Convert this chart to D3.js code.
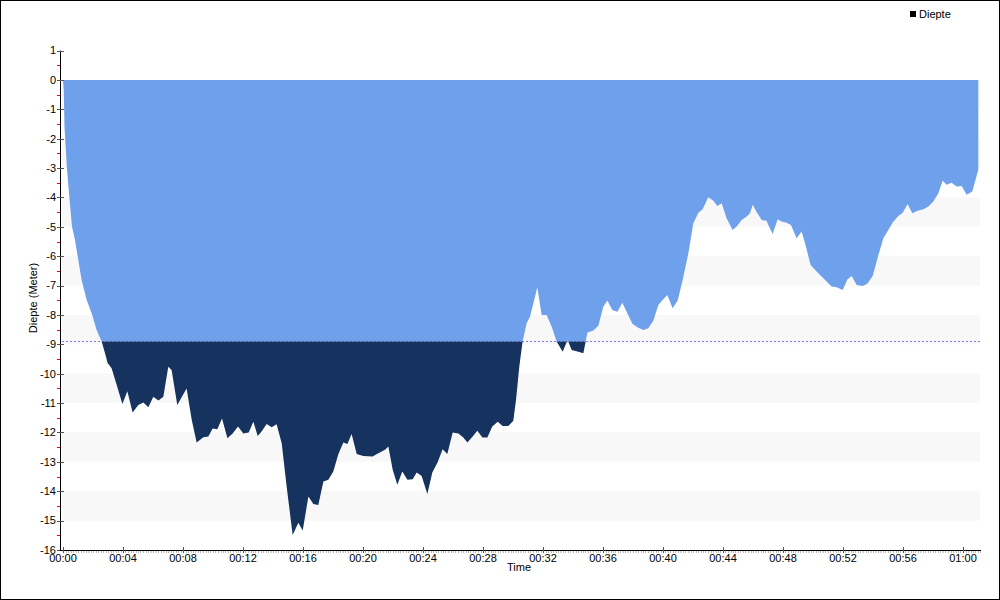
<!DOCTYPE html>
<html><head><meta charset="utf-8">
<script src="https://cdn.jsdelivr.net/npm/d3@7"></script>
<style>body{margin:0;background:#fff}svg{display:block}</style>
</head><body><svg id="c" width="1000" height="600"></svg>
<script>
// Data (minutes, meters)
const times = [0,0.05,0.1,0.18,0.26,0.4,0.6,0.8,1.02,1.24,1.58,1.91,2.24,2.58,2.8,2.98,3.24,3.58,3.96,4.29,4.64,5.02,5.36,5.69,6.02,6.36,6.69,7.02,7.24,7.62,7.91,8.24,8.58,8.91,9.36,9.69,9.98,10.29,10.6,10.96,11.31,11.67,12.02,12.38,12.69,12.98,13.24,13.58,13.91,14.24,14.58,14.91,15.31,15.69,15.98,16.36,16.69,17.02,17.36,17.69,18.02,18.36,18.69,18.96,19.24,19.58,20.02,20.64,21.02,21.47,21.69,21.98,22.29,22.62,22.96,23.31,23.58,23.91,24.29,24.62,24.96,25.31,25.62,25.98,26.36,26.69,26.96,27.31,27.62,27.96,28.29,28.62,28.98,29.31,29.69,30.02,30.2,30.42,30.64,30.91,31.13,31.36,31.62,31.91,32.24,32.58,32.91,33.31,33.64,33.91,34.36,34.69,34.96,35.36,35.69,36.02,36.29,36.62,36.96,37.29,37.62,37.96,38.29,38.69,39.02,39.36,39.69,40.02,40.29,40.64,40.98,41.31,41.69,42.02,42.36,42.64,43.02,43.36,43.62,43.91,44.24,44.64,44.91,45.24,45.58,45.8,45.98,46.29,46.58,46.91,47.02,47.31,47.64,47.91,48.24,48.53,48.91,49.24,49.53,49.84,50.24,50.69,51.24,51.58,51.98,52.29,52.58,52.91,53.31,53.62,53.98,54.36,54.69,55.02,55.36,55.69,55.98,56.31,56.62,56.96,57.36,57.69,58.02,58.36,58.64,58.91,59.24,59.58,59.91,60.24,60.62,61.02];
const depths = [0,-0.35,-1.6,-2.3,-3.0,-3.85,-5.0,-5.45,-6.13,-6.81,-7.49,-7.94,-8.51,-8.9,-9.3,-9.64,-9.81,-10.38,-11.03,-10.6,-11.32,-11.06,-10.98,-11.14,-10.78,-10.91,-10.78,-9.76,-9.87,-11.06,-10.8,-10.5,-11.57,-12.34,-12.16,-12.14,-11.86,-11.89,-11.52,-12.2,-12.03,-11.8,-12.03,-12.0,-11.63,-12.12,-11.97,-11.71,-11.82,-11.72,-12.37,-13.84,-15.49,-15.07,-15.34,-14.18,-14.43,-14.47,-13.67,-13.61,-13.33,-12.73,-12.34,-12.39,-12.05,-12.73,-12.8,-12.82,-12.71,-12.59,-12.48,-13.27,-13.78,-13.33,-13.61,-13.59,-13.36,-13.48,-14.09,-13.36,-13.03,-12.57,-12.73,-12.0,-12.03,-12.17,-12.34,-12.14,-11.94,-12.17,-12.17,-11.8,-11.63,-11.78,-11.78,-11.6,-10.89,-9.76,-8.9,-8.28,-8.06,-7.6,-7.06,-8.0,-8.0,-8.4,-8.9,-9.25,-8.85,-9.19,-9.25,-9.3,-8.6,-8.53,-8.37,-7.72,-7.51,-7.83,-7.89,-7.58,-7.94,-8.3,-8.42,-8.51,-8.45,-8.19,-7.66,-7.46,-7.32,-7.77,-7.51,-6.81,-5.9,-4.88,-4.52,-4.4,-3.99,-4.11,-4.29,-4.2,-4.71,-5.11,-4.99,-4.77,-4.65,-4.54,-4.25,-4.54,-4.77,-4.79,-4.94,-5.24,-4.74,-4.82,-4.86,-4.94,-5.39,-5.16,-5.67,-6.3,-6.52,-6.75,-7.03,-7.06,-7.15,-6.79,-6.67,-6.98,-7.01,-6.94,-6.67,-5.96,-5.39,-5.11,-4.82,-4.63,-4.52,-4.22,-4.54,-4.45,-4.4,-4.31,-4.14,-3.86,-3.43,-3.57,-3.5,-3.63,-3.61,-3.91,-3.8,-3.06];
const yTicks = d3.range(1, -17, -1);
const xTicks = d3.range(0, 61, 4);
const xTickLabels = xTicks.map(m => String(Math.floor(m/60)).padStart(2,"0") + ":" + String(m%60).padStart(2,"0"));
const threshold = -8.9;
const seriesName = "Diepte";
const yTitle = "Diepte (Meter)";
const xTitle = "Time";

const svg = d3.select("#c");
const font = "'Liberation Sans', Arial, sans-serif";
const x = d3.scaleLinear().domain([0, 61.2]).range([63, 981]);
const y = d3.scaleLinear().domain([1, -16]).range([50.6, 550]);
const L = 62, R = 980;

svg.append("rect").attr("x",0.5).attr("y",0.5).attr("width",999).attr("height",599).attr("fill","#fff").attr("stroke","#000");

// bands
const bands = d3.range(0, -16, -2);
svg.append("g").selectAll("rect").data(bands).join("rect")
  .attr("x", L).attr("width", R - L)
  .attr("y", d => y(d)).attr("height", d => y(d-1) - y(d))
  .attr("fill", "#f8f8f8");

// threshold line
svg.append("line").attr("x1", L).attr("x2", R).attr("y1", Math.round(y(threshold))+0.5).attr("y2", Math.round(y(threshold))+0.5)
  .attr("stroke", "#7a7aff").attr("stroke-dasharray", "2,2").attr("stroke-width",1);

const data = times.map((t,i) => [t, depths[i]]);
const area = d3.area().x(d => x(d[0])).y0(y(0)).y1(d => y(d[1]));
const ty = y(threshold);
const defs = svg.append("defs");
defs.append("clipPath").attr("id","top").append("rect").attr("x",0).attr("y",0).attr("width",1000).attr("height",ty);
defs.append("clipPath").attr("id","bot").append("rect").attr("x",0).attr("y",ty).attr("width",1000).attr("height",600-ty);
svg.append("path").datum(data).attr("d", area).attr("fill","#6fa0ec").attr("clip-path","url(#top)");
svg.append("path").datum(data).attr("d", area).attr("fill","#16325f").attr("clip-path","url(#bot)");

// y axis
const ya = svg.append("g");
ya.append("line").attr("x1",60.5).attr("x2",60.5).attr("y1",y(1)).attr("y2",y(-16)).attr("stroke","#000");
ya.selectAll("line.mj").data(yTicks).join("line").attr("class","mj")
  .attr("x1",57).attr("x2",64).attr("y1",d=>Math.round(y(d))+0.5).attr("y2",d=>Math.round(y(d))+0.5).attr("stroke","#555");
ya.selectAll("line.mn").data(d3.range(0.5,-16,-1)).join("line").attr("class","mn")
  .attr("x1",57).attr("x2",60).attr("y1",d=>Math.round(y(d))+0.5).attr("y2",d=>Math.round(y(d))+0.5).attr("stroke","#f00");
ya.selectAll("text").data(yTicks).join("text")
  .attr("x",56).attr("y",d=>y(d)).attr("dy","0.35em").attr("text-anchor","end")
  .attr("font-family",font).attr("font-size",11).attr("fill","#000").text(d=>d);

// x axis
const xa = svg.append("g");
xa.selectAll("line.mn").data(d3.range(0, 61.2, 1/6)).join("line").attr("class","mn")
  .attr("x1",d=>Math.round(x(d))+0.5).attr("x2",d=>Math.round(x(d))+0.5).attr("y1",551).attr("y2",553).attr("stroke","#bbb");
xa.append("line").attr("x1",60).attr("x2",981).attr("y1",550.5).attr("y2",550.5).attr("stroke","#000");
xa.selectAll("line.mj").data(xTicks).join("line").attr("class","mj")
  .attr("x1",d=>Math.round(x(d))+0.5).attr("x2",d=>Math.round(x(d))+0.5).attr("y1",547).attr("y2",553).attr("stroke","#555");
xa.selectAll("text").data(xTicks).join("text")
  .attr("x",d=>x(d)).attr("y",562).attr("text-anchor","middle")
  .attr("font-family",font).attr("font-size",11).attr("fill","#000").text((d,i)=>xTickLabels[i]);

// titles
svg.append("text").attr("transform","translate(37,298) rotate(-90)").attr("text-anchor","middle")
  .attr("font-family",font).attr("font-size",11).text(yTitle);
svg.append("text").attr("x",519).attr("y",571).attr("text-anchor","middle")
  .attr("font-family",font).attr("font-size",11).text(xTitle);

// legend
svg.append("rect").attr("x",910).attr("y",11).attr("width",6).attr("height",6).attr("fill","#000");
svg.append("text").attr("x",919).attr("y",18).attr("font-family",font).attr("font-size",11).text(seriesName);
</script></body></html>
